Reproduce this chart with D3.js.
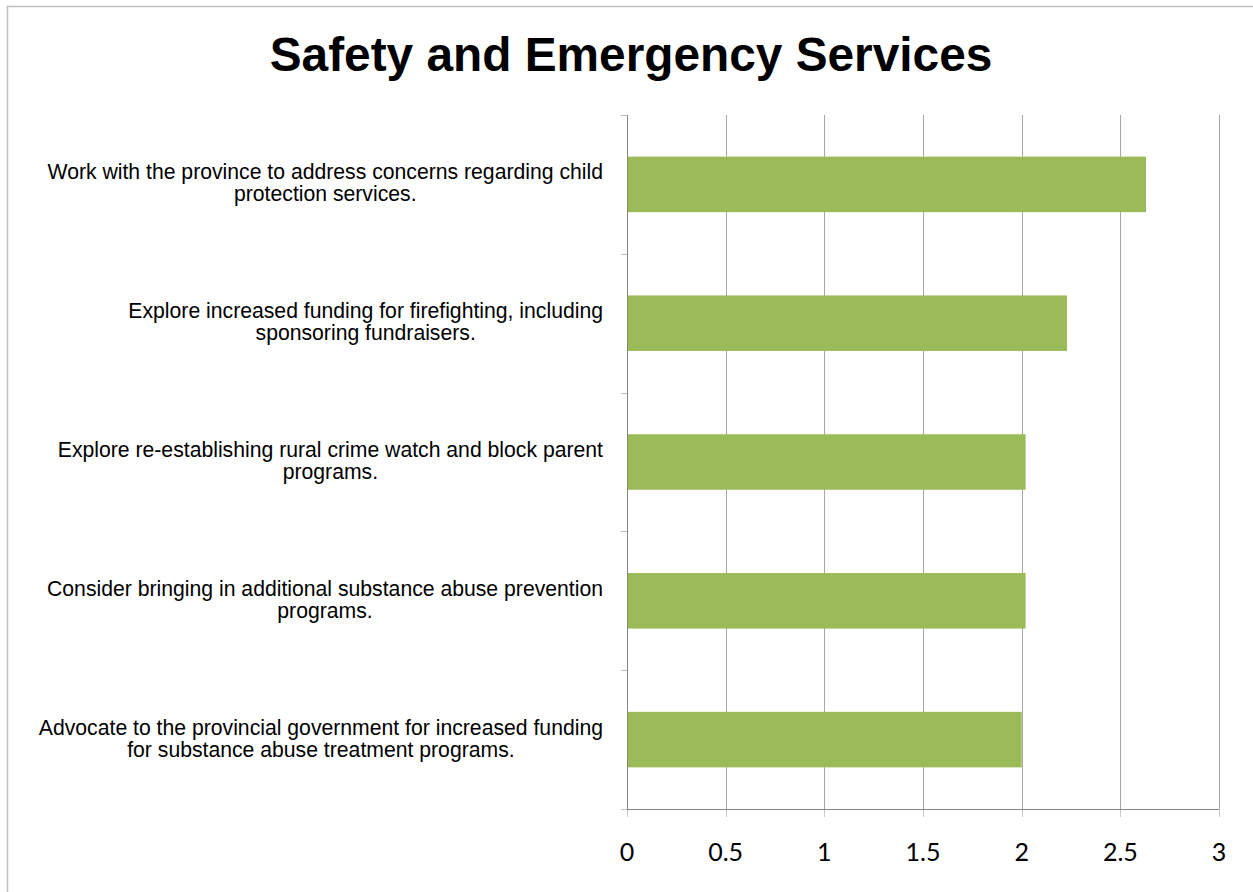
<!DOCTYPE html>
<html>
<head>
<meta charset="utf-8">
<script src="https://cdn.jsdelivr.net/npm/d3@7"></script>
<style>
  html, body { margin: 0; padding: 0; background: #ffffff; }
  svg { display: block; }
</style>
</head>
<body>
<svg id="chart" width="1253" height="892"></svg>
<script>
// Category labels (each entry holds the wrapped lines of one label), top to bottom
const categories = [
  ["Work with the province to address concerns regarding child", "protection services."],
  ["Explore increased funding for firefighting, including", "sponsoring fundraisers."],
  ["Explore re-establishing rural crime watch and block parent", "programs."],
  ["Consider bringing in additional substance abuse prevention", "programs."],
  ["Advocate to the provincial government for increased funding", "for substance abuse treatment programs."]
];
const values = [2.63, 2.23, 2.02, 2.02, 2.0];
const xTicks = [0, 0.5, 1, 1.5, 2, 2.5, 3];
const xTickLabels = ["0", "0.5", "1", "1.5", "2", "2.5", "3"];
const title = "Safety and Emergency Services";

const svg = d3.select("#chart");
const W = 1253, H = 892;
const plot = { left: 627, right: 1219, top: 115, bottom: 809 };

// Outer chart border
svg.append("rect")
  .attr("x", 7.5).attr("y", 6.5)
  .attr("width", W).attr("height", H)
  .attr("fill", "#ffffff")
  .attr("stroke", "#bfbfbf").attr("stroke-width", 1.5);

// Title
svg.append("text")
  .attr("x", 631).attr("y", 71)
  .attr("text-anchor", "middle")
  .attr("font-family", "'Liberation Sans', Arial, sans-serif")
  .attr("font-weight", "bold")
  .attr("font-size", 47.8)
  .attr("fill", "#000")
  .text(title);

const x = d3.scaleLinear().domain([0, 3]).range([plot.left, plot.right]);
const y = d3.scaleBand()
  .domain(d3.range(categories.length))
  .range([plot.top, plot.bottom])
  .paddingInner(0.6).paddingOuter(0.3);

// Vertical gridlines
svg.append("g")
  .selectAll("line")
  .data(xTicks.filter(d => d > 0))
  .join("line")
  .attr("x1", d => Math.round(x(d)) + 0.5).attr("x2", d => Math.round(x(d)) + 0.5)
  .attr("y1", plot.top).attr("y2", plot.bottom)
  .attr("stroke", "#a6a6a6").attr("stroke-width", 1);

// Bars
svg.append("g")
  .selectAll("rect")
  .data(values)
  .join("rect")
  .attr("x", x(0))
  .attr("y", (d, i) => y(i))
  .attr("width", d => x(d) - x(0))
  .attr("height", y.bandwidth())
  .attr("fill", "#9bbb59");

// Category axis ticks at band boundaries
const boundaries = d3.range(categories.length + 1).map(i => plot.top + i * (plot.bottom - plot.top) / categories.length);
svg.append("g")
  .selectAll("line")
  .data(boundaries)
  .join("line")
  .attr("x1", plot.left - 6).attr("x2", plot.left)
  .attr("y1", d => Math.round(d) + 0.5).attr("y2", d => Math.round(d) + 0.5)
  .attr("stroke", "#bfbfbf").attr("stroke-width", 1);

// Value axis ticks below the axis line
svg.append("g")
  .selectAll("line")
  .data(xTicks)
  .join("line")
  .attr("x1", d => Math.round(x(d)) + 0.5).attr("x2", d => Math.round(x(d)) + 0.5)
  .attr("y1", plot.bottom).attr("y2", plot.bottom + 8)
  .attr("stroke", "#c8c8c8").attr("stroke-width", 1);

// Axis lines
svg.append("line")
  .attr("x1", plot.left + 0.5).attr("x2", plot.left + 0.5)
  .attr("y1", plot.top).attr("y2", plot.bottom)
  .attr("stroke", "#868686").attr("stroke-width", 1);
svg.append("line")
  .attr("x1", plot.left).attr("x2", plot.right)
  .attr("y1", plot.bottom + 0.5).attr("y2", plot.bottom + 0.5)
  .attr("stroke", "#868686").attr("stroke-width", 1);

// Value axis labels
svg.append("g")
  .selectAll("text")
  .data(xTicks)
  .join("text")
  .attr("x", d => x(d))
  .attr("y", 861)
  .attr("text-anchor", "middle")
  .attr("font-family", "Lato, 'Open Sans', sans-serif")
  .attr("font-size", 25)
  .attr("fill", "#000")
  .text((d, i) => xTickLabels[i]);

// Category labels: block right-aligned, lines centred within the block
const fontSize = 21.2, lineH = 22, labelRight = 603;
const labelG = svg.append("g")
  .attr("font-family", "'Liberation Sans', Arial, sans-serif")
  .attr("font-size", fontSize)
  .attr("fill", "#000");
categories.forEach((lines, i) => {
  const cy = y(i) + y.bandwidth() / 2;
  const texts = lines.map((ln, j) => labelG.append("text")
    .attr("y", cy + (j - (lines.length - 1) / 2) * lineH + fontSize * 0.28)
    .attr("text-anchor", "middle")
    .text(ln));
  const maxW = d3.max(texts, t => t.node().getComputedTextLength());
  texts.forEach(t => t.attr("x", labelRight - maxW / 2));
});
</script>
</body>
</html>
